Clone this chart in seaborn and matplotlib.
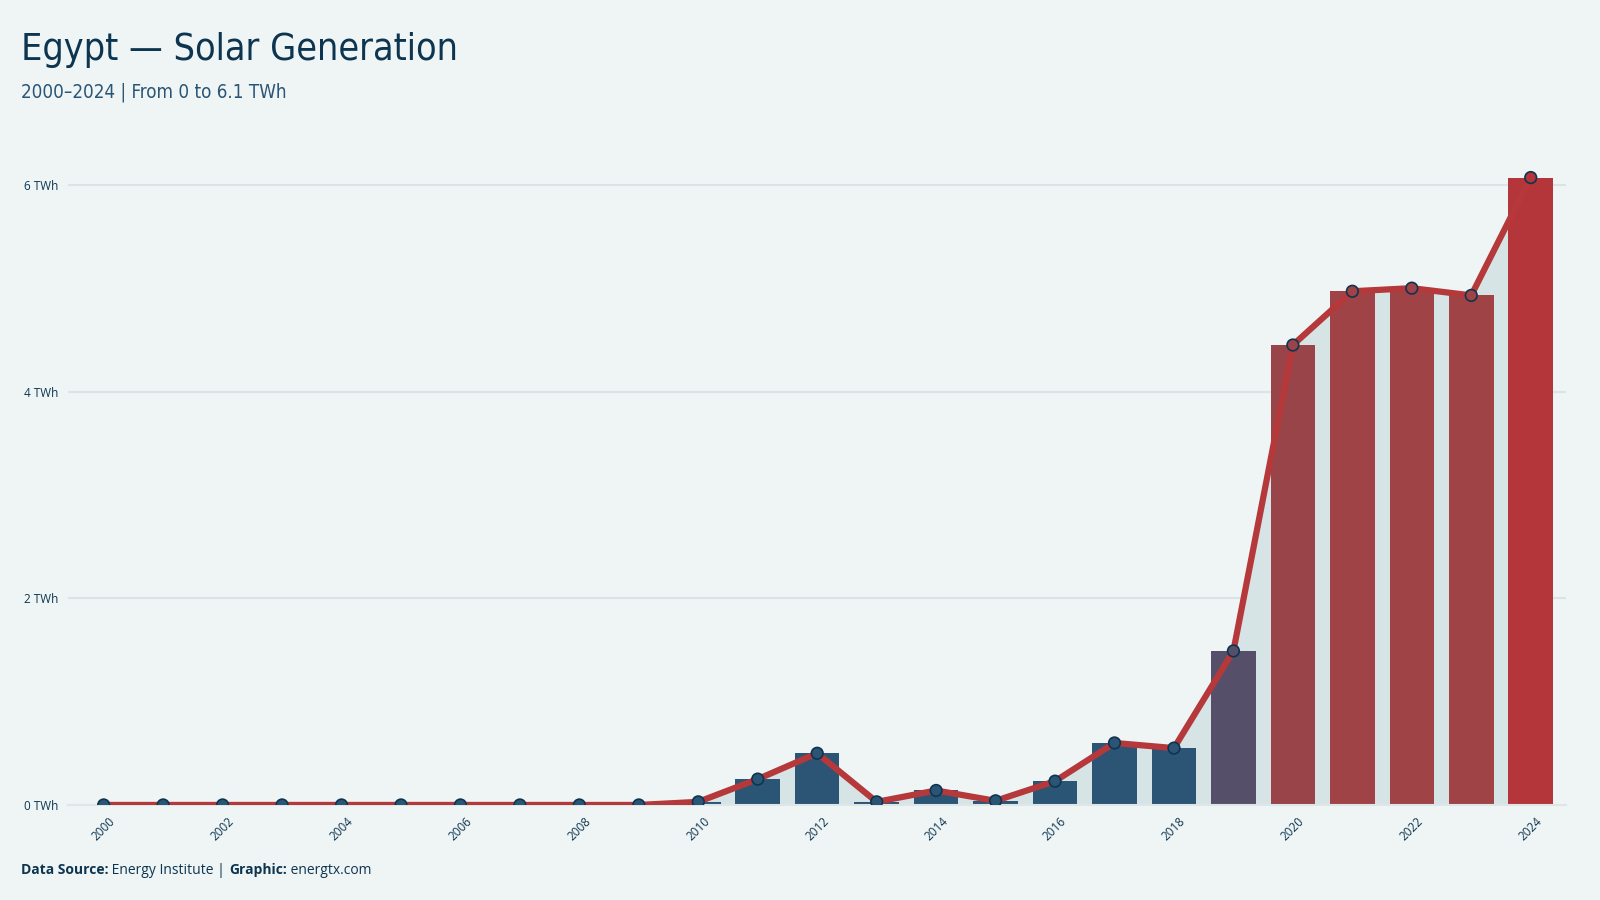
import numpy as np
import pandas as pd
import matplotlib
matplotlib.use("Agg")
import matplotlib.pyplot as plt
import seaborn as sns
from matplotlib.colors import LinearSegmentedColormap

# Egypt solar generation, TWh
years = list(range(2000, 2025))
solar_twh = [0.0, 0.0, 0.0, 0.0, 0.0, 0.0, 0.0, 0.0, 0.0, 0.0,
             0.03, 0.25, 0.50, 0.03, 0.14, 0.04, 0.23, 0.60, 0.55, 1.49,
             4.45, 4.97, 5.00, 4.93, 6.07]
ytick_vals = [0, 2, 4, 6]

df = pd.DataFrame({"year": years, "twh": solar_twh})
df["pos"] = np.arange(len(df))

BG = "#eff5f5"
NAVY = "#0d3550"
LINE_RED = "#b5383b"

sns.set_theme(style="white")
plt.rcParams["font.family"] = ["Open Sans", "DejaVu Sans"]

cmap = LinearSegmentedColormap.from_list("solar", [
    (0.0, "#2a5575"), (0.1, "#2c5475"), (0.25, "#584f68"),
    (0.73, "#984449"), (0.82, "#a04347"), (1.0, "#b5363a")])
colors = [cmap(v / max(solar_twh)) for v in solar_twh]

fig = plt.figure(figsize=(16, 9), dpi=100, facecolor=BG)
ax = fig.add_axes([0.0425, 0.1056, 0.9365, 0.735])
ax.set_facecolor(BG)

# area under the line
ax.fill_between(df["pos"], 0, df["twh"], color="#d7e4e6", zorder=1, lw=0)

sns.barplot(data=df, x="year", y="twh", hue="year", palette=colors,
            legend=False, width=0.75, saturation=1, ax=ax, zorder=2, linewidth=0)
sns.lineplot(x=df["pos"], y=df["twh"], color=LINE_RED, lw=4.5, ax=ax, zorder=3)
ax.scatter(df["pos"], df["twh"], s=70, c=colors, edgecolors=NAVY,
           linewidths=1.2, zorder=4)

ax.set_xlim(-0.6, 24.6)
ax.set_ylim(0, 6.4)
ax.set_yticks(ytick_vals)
ax.set_yticklabels([f"{v} TWh" for v in ytick_vals], fontsize=8.5, color=NAVY)
ax.set_xticks(range(0, 25, 2))
ax.set_xticklabels([str(y) for y in years[::2]], rotation=45, fontsize=8.5,
                   color=NAVY, ha="center")
ax.tick_params(axis="y", length=0, pad=7)
ax.tick_params(axis="x", length=0, pad=7)
ax.grid(axis="y", color="#dae4e7", lw=1.5)
ax.set_axisbelow(True)
ax.set_xlabel("")
ax.set_ylabel("")
for s in ["top", "right", "left"]:
    ax.spines[s].set_visible(False)
ax.spines["bottom"].set_color("#dde6e8")
ax.spines["bottom"].set_linewidth(1.5)

cond = ["Liberation Sans Narrow", "DejaVu Sans"]
fig.text(0.013, 0.944, "Egypt \u2014 Solar Generation", fontsize=27, color="#0d3550",
         family=cond, fontstretch="condensed", va="center")
fig.text(0.013, 0.897, "2000\u20132024 | From 0 to 6.1 TWh", fontsize=13.5,
         color="#2a5575", family=cond, fontstretch="condensed", va="center")

# footer: mixed bold / regular pieces placed one after another
pieces = [("Data Source:", "bold"), (" Energy Institute | ", "normal"),
          ("Graphic:", "bold"), (" energtx.com", "normal")]
fig.canvas.draw()
r = fig.canvas.get_renderer()
x = 0.013
for txt, w in pieces:
    t = fig.text(x, 0.033, txt, fontsize=10, weight=w, color=NAVY, va="center")
    bb = t.get_window_extent(renderer=r)
    x += bb.width / fig.bbox.width

fig.savefig("out.png", dpi=100, facecolor=BG)
